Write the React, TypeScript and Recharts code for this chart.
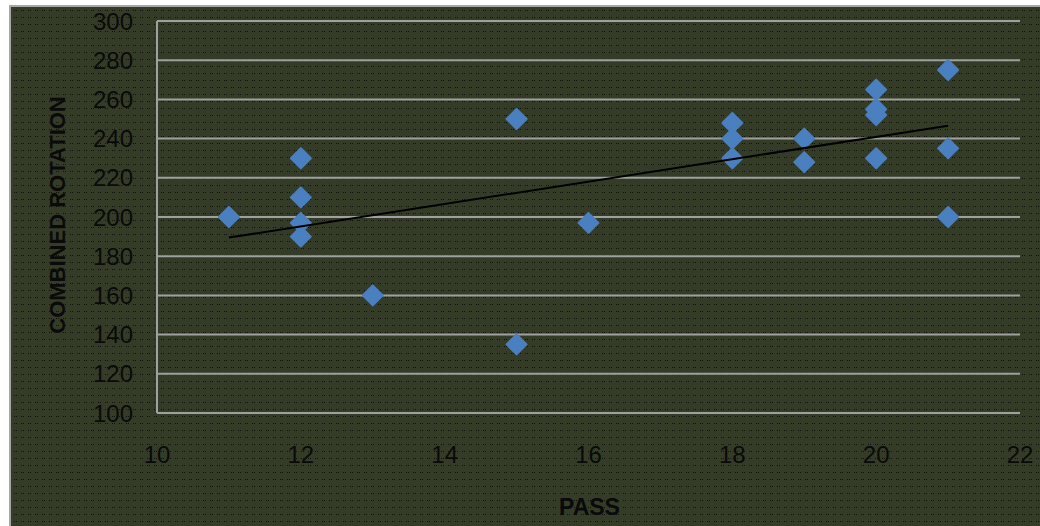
import { ScatterChart, Scatter, XAxis, YAxis, CartesianGrid, Label } from 'recharts'

const PASS = [11, 12, 12, 12, 12, 13, 15, 15, 16, 18, 18, 18, 19, 19, 20, 20, 20, 20, 21, 21, 21]
const ROTATION = [200, 230, 210, 197, 190, 160, 250, 135, 197, 248, 240, 230, 240, 228, 265, 255, 252, 230, 275, 235, 200]
const TREND_X = [11, 21]
const TREND_Y = [189.5, 246.6]
const X_TICKS = [10, 12, 14, 16, 18, 20, 22]
const Y_TICKS = [100, 120, 140, 160, 180, 200, 220, 240, 260, 280, 300]

const points = PASS.map((x, i) => ({ x, y: ROTATION[i] }))
const trend = TREND_X.map((x, i) => ({ x, y: TREND_Y[i] }))

const BLUE = '#4a7fc0'
const TICK_FONT = { fontFamily: '"Liberation Sans", Arial, sans-serif', fontSize: 24, fill: '#0a0a0a' }
const TITLE_FONT = '"Liberation Sans", Arial, sans-serif'

const Diamond = (props: any) => {
  const { cx, cy } = props
  if (cx == null || cy == null) return <g />
  const r = 10
  return (
    <path
      d={`M${cx},${cy - r} L${cx + r},${cy} L${cx},${cy + r} L${cx - r},${cy} Z`}
      fill={BLUE}
      stroke={BLUE}
      strokeWidth={2}
      strokeLinejoin="round"
    />
  )
}

const YTitle = (props: any) => {
  const vb = props.viewBox
  const cx = vb.x + 46
  const cy = vb.y + vb.height / 2 - 2
  return (
    <text
      x={cx}
      y={cy}
      transform={`rotate(-90 ${cx} ${cy})`}
      textAnchor="middle"
      dominantBaseline="central"
      fontFamily={TITLE_FONT}
      fontWeight="bold"
      fontSize={22}
      fill="#0a0a0a"
    >
      COMBINED ROTATION
    </text>
  )
}

const XTitle = (props: any) => {
  const vb = props.viewBox
  const cx = vb.x + vb.width / 2 + 1
  const cy = vb.y + 94
  return (
    <text
      x={cx}
      y={cy}
      textAnchor="middle"
      dominantBaseline="central"
      fontFamily={TITLE_FONT}
      fontWeight="bold"
      fontSize={23}
      fill="#0a0a0a"
    >
      PASS
    </text>
  )
}

export default function App() {
  return (
    <div style={{ position: 'absolute', left: 0, top: 0, width: 1040, height: 526, overflow: 'hidden', background: '#fff' }}>
      <div
        style={{
          position: 'absolute',
          left: 9,
          top: 5,
          width: 1040,
          height: 530,
          border: '2px solid #a6a6a6',
          backgroundColor: '#343c28',
          backgroundImage:
            'radial-gradient(#0f120b 0.7px, transparent 0.8px), radial-gradient(#0f120b 0.7px, transparent 0.8px)',
          backgroundSize: '7px 7px, 7px 7px',
          backgroundPosition: '0 0, 2px 0',
        }}
      />
      <div style={{ position: 'absolute', left: 11, top: 7 }}>
        <ScatterChart width={1029} height={519} margin={{ top: 14, right: 20, left: 0, bottom: 53 }}>
          <CartesianGrid vertical={false} stroke="#a0a0a0" strokeWidth={2} />
          <XAxis
            type="number"
            dataKey="x"
            domain={[10, 22]}
            ticks={X_TICKS}
            height={60}
            axisLine={false}
            tickLine={false}
            tickSize={0}
            tickMargin={33}
            tick={TICK_FONT}
            interval={0}
          >
            <Label content={<XTitle />} />
          </XAxis>
          <YAxis
            type="number"
            dataKey="y"
            domain={[100, 300]}
            ticks={Y_TICKS}
            width={146}
            axisLine={{ stroke: '#a0a0a0', strokeWidth: 2 }}
            tickLine={false}
            tickSize={0}
            tickMargin={24}
            tick={TICK_FONT}
            interval={0}
          >
            <Label content={<YTitle />} />
          </YAxis>
          <Scatter data={points} fill={BLUE} shape={Diamond} isAnimationActive={false} />
          <Scatter
            data={trend}
            line={{ stroke: '#000', strokeWidth: 2 }}
            shape={() => <g />}
            legendType="none"
            isAnimationActive={false}
          />
        </ScatterChart>
      </div>
    </div>
  )
}
